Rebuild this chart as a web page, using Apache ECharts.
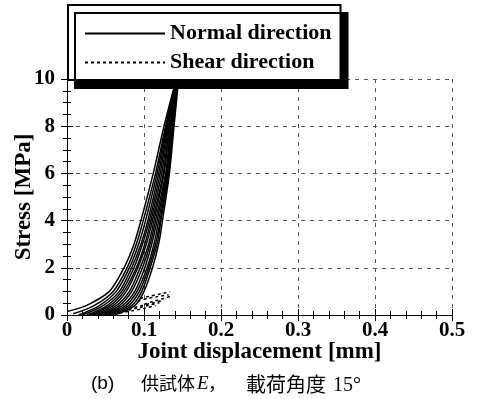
<!DOCTYPE html>
<html>
<head>
<meta charset="utf-8">
<script src="https://cdn.jsdelivr.net/npm/echarts@6/dist/echarts.min.js"></script>
<style>
html, body { margin: 0; padding: 0; background: #fff; }
#main { width: 477px; height: 399px; }
</style>
</head>
<body>
<div id="main"></div>
<script>
// normal direction loading curves [displacement mm, stress MPa]
var normal1 = [[0.000, 0.15], [0.025, 0.4], [0.055, 1.0], [0.074, 2.0], [0.087, 3.0], [0.096, 4.0], [0.112, 6.0], [0.126, 8.0], [0.142, 10]];
var normal2 = [[0.008, 0.05], [0.035, 0.4], [0.060, 1.0], [0.078, 2.0], [0.090, 3.0], [0.099, 4.0], [0.115, 6.0], [0.128, 8.0], [0.142, 10]];
var normal3 = [[0.015, 0], [0.042, 0.4], [0.064, 1.0], [0.081, 2.0], [0.093, 3.0], [0.102, 4.0], [0.117, 6.0], [0.129, 8.0], [0.142, 10]];
var normal4 = [[0.020, 0], [0.047, 0.4], [0.068, 1.0], [0.084, 2.0], [0.096, 3.0], [0.105, 4.0], [0.119, 6.0], [0.130, 8.0], [0.143, 10]];
var normal5 = [[0.026, 0], [0.052, 0.4], [0.071, 1.0], [0.087, 2.0], [0.098, 3.0], [0.107, 4.0], [0.121, 6.0], [0.131, 8.0], [0.143, 10]];
var normal6 = [[0.030, 0], [0.056, 0.4], [0.074, 1.0], [0.090, 2.0], [0.101, 3.0], [0.109, 4.0], [0.123, 6.0], [0.132, 8.0], [0.143, 10]];
var normal7 = [[0.034, 0], [0.060, 0.4], [0.077, 1.0], [0.092, 2.0], [0.103, 3.0], [0.111, 4.0], [0.125, 6.0], [0.133, 8.0], [0.143, 10]];
var normal8 = [[0.038, 0], [0.064, 0.4], [0.081, 1.0], [0.095, 2.0], [0.106, 3.0], [0.113, 4.0], [0.126, 6.0], [0.134, 8.0], [0.143, 10]];
var normal9 = [[0.042, 0], [0.068, 0.4], [0.084, 1.0], [0.098, 2.0], [0.108, 3.0], [0.115, 4.0], [0.128, 6.0], [0.135, 8.0], [0.144, 10]];
var normal10 = [[0.046, 0], [0.072, 0.4], [0.088, 1.0], [0.101, 2.0], [0.110, 3.0], [0.117, 4.0], [0.129, 6.0], [0.136, 8.0], [0.144, 10]];
var normal11 = [[0.050, 0], [0.076, 0.4], [0.091, 1.0], [0.104, 2.0], [0.113, 3.0], [0.119, 4.0], [0.130, 6.0], [0.137, 8.0], [0.144, 10]];
var normal12 = [[0.054, 0], [0.080, 0.4], [0.094, 1.0], [0.106, 2.0], [0.115, 3.0], [0.121, 4.0], [0.131, 6.0], [0.138, 8.0], [0.144, 10]];
var normal13 = [[0.058, 0], [0.084, 0.4], [0.097, 1.0], [0.108, 2.0], [0.117, 3.0], [0.122, 4.0], [0.132, 6.0], [0.138, 8.0], [0.144, 10]];
var normal14 = [[0.062, 0], [0.088, 0.4], [0.100, 1.0], [0.111, 2.0], [0.119, 3.0], [0.124, 4.0], [0.133, 6.0], [0.139, 8.0], [0.145, 10]];

// shear direction curves
var shear1 = [[0.068, 0.08], [0.085, 0.18], [0.100, 0.28], [0.115, 0.40]];
var shear2 = [[0.072, 0.15], [0.090, 0.28], [0.105, 0.40], [0.120, 0.52]];
var shear3 = [[0.080, 0.25], [0.095, 0.38], [0.110, 0.50], [0.125, 0.62]];
var shear4 = [[0.095, 0.70], [0.108, 0.80], [0.122, 0.90], [0.134, 0.98]];
var shear5 = [[0.092, 0.58], [0.105, 0.70], [0.118, 0.78], [0.132, 0.86]];
var shear6 = [[0.100, 0.45], [0.112, 0.58], [0.125, 0.70], [0.135, 0.80]];

var normalCurves = [normal1, normal2, normal3, normal4, normal5, normal6, normal7,
    normal8, normal9, normal10, normal11, normal12, normal13, normal14];
var shearCurves = [shear1, shear2, shear3, shear4, shear5, shear6];

var legendNames = ['Normal direction', 'Shear direction'];

var serif = '"Liberation Serif", "Times New Roman", serif';

var myChart = echarts.init(document.getElementById('main'));

var seriesList = [];
for (var i = 0; i < normalCurves.length; i++) {
    seriesList.push({
        name: legendNames[0],
        type: 'line',
        smooth: 0.3,
        symbol: 'none',
        color: '#000',
        data: normalCurves[i],
        lineStyle: { color: '#000', width: 1.5 }
    });
}
for (var i = 0; i < shearCurves.length; i++) {
    seriesList.push({
        name: legendNames[1],
        type: 'line',
        smooth: 0.3,
        symbol: 'none',
        color: '#000',
        data: shearCurves[i],
        lineStyle: { color: '#000', width: 1.5, type: [3, 3] }
    });
}

// mirror axis (top / right), ticks only
function mirrorAxis(pos, max, split) {
    return {
        type: 'value',
        position: pos,
        min: 0,
        max: max,
        interval: max / 5,
        axisLine: { show: true, lineStyle: { color: '#000', width: 1 } },
        axisTick: { show: true, inside: true, length: 6, lineStyle: { color: '#000' } },
        minorTick: { show: true, splitNumber: split, length: 4, lineStyle: { color: '#000' } },
        axisLabel: { show: false },
        splitLine: { show: false }
    };
}

var option = {
    animation: false,
    backgroundColor: '#fff',
    grid: {
        left: 67,
        right: 25,
        top: 79,
        bottom: 84,
        containLabel: false,
        outerBoundsMode: 'none'
    },
    legend: {
        data: legendNames,
        orient: 'vertical',
        left: 68,
        top: 5,
        itemWidth: 80,
        itemHeight: 14,
        itemGap: 6,
        padding: [17, 9, 6, 16],
        backgroundColor: '#fff',
        borderColor: '#000',
        borderWidth: 2,
        shadowColor: '#000',
        shadowBlur: 0,
        shadowOffsetX: 7,
        shadowOffsetY: 8,
        itemStyle: { color: 'rgba(0,0,0,0)', borderWidth: 0 },
        textStyle: {
            fontFamily: serif,
            fontWeight: 'bold',
            fontSize: 22,
            lineHeight: 23,
            color: '#000'
        },
        selectedMode: false
    },
    xAxis: [{
        type: 'value',
        min: 0,
        max: 0.5,
        interval: 0.1,
        name: 'Joint displacement [mm]',
        nameLocation: 'middle',
        nameGap: 26,
        nameMoveOverlap: false,
        nameTextStyle: { fontFamily: serif, fontWeight: 'bold', fontSize: 23, color: '#000' },
        axisLine: { show: true, lineStyle: { color: '#000', width: 1 } },
        axisTick: { show: true, inside: true, length: 6, lineStyle: { color: '#000' } },
        minorTick: { show: true, splitNumber: 5, length: 4, lineStyle: { color: '#000' } },
        axisLabel: {
            margin: 5,
            fontFamily: serif,
            fontWeight: 'bold',
            fontSize: 21,
            color: '#000',
            formatter: function (v) { return v === 0 ? '0' : v.toFixed(1); }
        },
        splitLine: { show: true, lineStyle: { color: '#555', type: [4, 5], width: 1 } }
    }, mirrorAxis('top', 0.5, 5)],
    yAxis: [{
        type: 'value',
        min: 0,
        max: 10,
        interval: 2,
        name: 'Stress [MPa]',
        nameLocation: 'middle',
        nameGap: 31,
        nameMoveOverlap: false,
        nameTextStyle: { fontFamily: serif, fontWeight: 'bold', fontSize: 23, color: '#000' },
        axisLine: { show: true, lineStyle: { color: '#000', width: 1 } },
        axisTick: { show: true, inside: true, length: 6, lineStyle: { color: '#000' } },
        minorTick: { show: true, splitNumber: 4, length: 4, lineStyle: { color: '#000' } },
        axisLabel: {
            margin: 12,
            fontFamily: serif,
            fontWeight: 'bold',
            fontSize: 21,
            color: '#000'
        },
        splitLine: { show: true, lineStyle: { color: '#555', type: [4, 5], width: 1 } }
    }, mirrorAxis('right', 10, 4)],
    // caption under the chart
    graphic: [
        { type: 'text', left: 91, top: 374, style: { text: '(b)', font: '19px "Liberation Sans", Arial, sans-serif', fill: '#000' } },
        { type: 'text', left: 141, top: 374, style: { text: '供試体', font: '18px "Noto Sans CJK JP", sans-serif', fill: '#000' } },
        { type: 'text', left: 197, top: 374, style: { text: 'E', font: 'italic 19px ' + serif, fill: '#000' } },
        { type: 'text', left: 208, top: 374, style: { text: '，', font: '18px "Noto Sans CJK JP", sans-serif', fill: '#000' } },
        { type: 'text', left: 246, top: 374, style: { text: '載荷角度', font: '20px "Noto Sans CJK JP", sans-serif', fill: '#000' } },
        { type: 'text', left: 333, top: 376, style: { text: '15°', font: '20px ' + serif, fill: '#000' } }
    ],
    series: seriesList
};

myChart.setOption(option);
</script>
</body>
</html>
